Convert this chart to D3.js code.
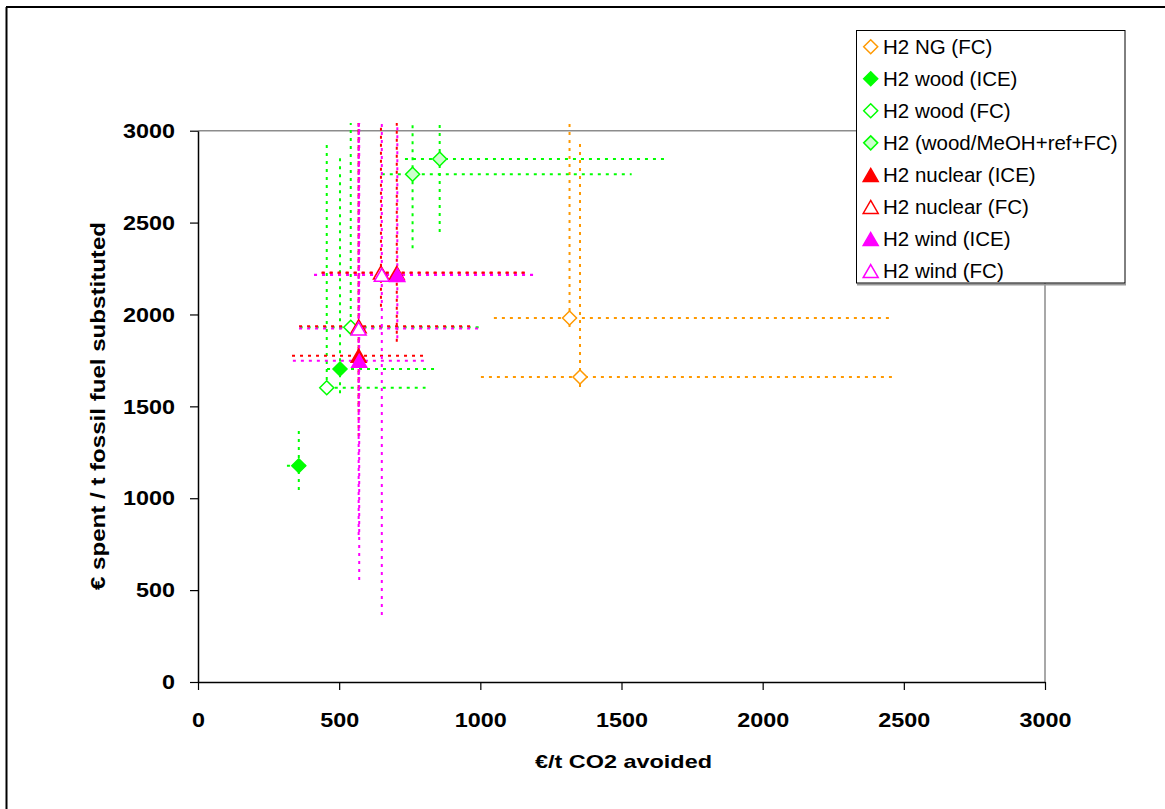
<!DOCTYPE html>
<html><head><meta charset="utf-8">
<script src="https://cdn.jsdelivr.net/npm/d3@7"></script>
<style>body{margin:0;background:#fff}</style></head>
<body>
<svg id="c" width="1165" height="809"></svg>
<script>
// ---------- data ----------
const xTicks = [0, 500, 1000, 1500, 2000, 2500, 3000];
const yTicks = [0, 500, 1000, 1500, 2000, 2500, 3000];
const seriesNames = ["H2 NG (FC)", "H2 wood (ICE)", "H2 wood (FC)", "H2 (wood/MeOH+ref+FC)",
  "H2 nuclear (ICE)", "H2 nuclear (FC)", "H2 wind (ICE)", "H2 wind (FC)"];
// each point: [x, y, xLow, xHigh, yLow, yHigh]
const ngFC       = [[1316, 1981, 1048, 2462, 1932, 3042], [1353, 1660, 1002, 2472, 1605, 2944]];
const woodICE    = [[357, 1177, 315, 390, 1045, 1366], [503, 1703, 457, 847, 1571, 2858]];
const woodFC     = [[456, 1601, 456, 806, 1600, 2928], [541, 1930, 360, 999, 1899, 3042]];
const woodMeOH   = [[760, 2763, 651, 1536, 2360, 3042], [856, 2846, 733, 1660, 2449, 3042]];
const nuclearICE = [[569, 1776, 333, 806, 1339, 3042], [704, 2226, 438, 1164, 1852, 3042]];
const nuclearFC  = [[569, 1936, 358, 974, 1500, 3042], [648, 2228, 438, 1164, 2042, 3042]];
const windICE    = [[571, 1748, 336, 811, 555, 3042], [706, 2215, 411, 1194, 1870, 3042]];
const windFC     = [[569, 1923, 358, 1005, 800, 3042], [651, 2216, 411, 1194, 365, 3042]];
const seriesData = [ngFC, woodICE, woodFC, woodMeOH, nuclearICE, nuclearFC, windICE, windFC];

// ---------- styles ----------
const seriesColor = ["#FF9900", "#00FF00", "#00FF00", "#00FF00", "#FF0000", "#FF0000", "#FF00FF", "#FF00FF"];
const seriesFill  = ["#FFFFFF", "#00FF00", "#FFFFFF", "#CCFFCC", "#FF0000", "#FFFFFF", "#FF00FF", "#FFFFFF"];
const seriesShape = ["diamond", "diamond", "diamond", "diamond", "triangle", "triangle", "triangle", "triangle"];
const FONT = "'Liberation Sans', Arial, sans-serif";

const svg = d3.select("#c");
const x = d3.scaleLinear().domain([0, 3000]).range([198, 1045]);
const y = d3.scaleLinear().domain([0, 3000]).range([682, 130.7]);

// outer frame (top & left)
svg.append("line").attr("x1", 6).attr("y1", 7).attr("x2", 1165).attr("y2", 7).attr("stroke", "#000").attr("stroke-width", 2);
svg.append("line").attr("x1", 6.5).attr("y1", 7).attr("x2", 6.5).attr("y2", 809).attr("stroke", "#000").attr("stroke-width", 2);

// plot area border (gray top/right)
svg.append("path")
  .attr("d", `M${x(0)},${y(3000)} H${x(3000)} V${y(0)}`)
  .attr("fill", "none").attr("stroke", "#8c8c8c").attr("stroke-width", 1.5);

// axes
const fmt = d3.format("d");
const xAxis = svg.append("g").attr("transform", `translate(0,${y(0)})`)
  .call(d3.axisBottom(x).tickValues(xTicks).tickFormat(fmt).tickSizeInner(8).tickSizeOuter(0).tickPadding(22));
const yAxis = svg.append("g").attr("transform", `translate(${x(0)},0)`)
  .call(d3.axisLeft(y).tickValues(yTicks).tickFormat(fmt).tickSizeInner(8).tickSizeOuter(0).tickPadding(15));
[xAxis, yAxis].forEach(g => {
  g.select(".domain").attr("stroke", "#000").attr("stroke-width", 1.5);
  g.selectAll(".tick line").attr("stroke", "#000").attr("stroke-width", 1.2);
  g.selectAll(".tick text").attr("fill", "#000")
    .style("font-family", FONT).style("font-weight", "bold").style("font-size", "21px")
    .attr("textLength", d => 13 * fmt(d).length).attr("lengthAdjust", "spacingAndGlyphs");
});

// axis titles
svg.append("text").attr("x", 535).attr("y", 768)
  .attr("textLength", 177).attr("lengthAdjust", "spacingAndGlyphs")
  .style("font-family", FONT).style("font-weight", "bold").style("font-size", "18.6px")
  .text("€/t CO2 avoided");
svg.append("text").attr("transform", "translate(105,590) rotate(-90)")
  .attr("x", 0).attr("y", 0)
  .attr("textLength", 368).attr("lengthAdjust", "spacingAndGlyphs")
  .style("font-family", FONT).style("font-weight", "bold").style("font-size", "20.5px")
  .text("€ spent / t fossil fuel substituted");

// error bars
const eb = svg.append("g");
seriesData.forEach((pts, i) => {
  pts.forEach(p => {
    eb.append("line").attr("x1", x(p[2])).attr("x2", x(p[3])).attr("y1", y(p[1])).attr("y2", y(p[1]))
      .attr("stroke", seriesColor[i]).attr("stroke-width", 2).attr("stroke-dasharray", "3,5");
    eb.append("line").attr("x1", x(p[0])).attr("x2", x(p[0])).attr("y1", y(p[4])).attr("y2", y(p[5]))
      .attr("stroke", seriesColor[i]).attr("stroke-width", 2).attr("stroke-dasharray", "3,5");
  });
});

function markerPath(shape) {
  return shape === "diamond" ? "M0,-7L7,0L0,7L-7,0Z" : "M0,-6.5L7.5,6.5L-7.5,6.5Z";
}

// markers
const mk = svg.append("g");
seriesData.forEach((pts, i) => {
  mk.selectAll(null).data(pts).enter().append("path")
    .attr("d", markerPath(seriesShape[i]))
    .attr("transform", p => `translate(${x(p[0])},${y(p[1])})`)
    .attr("fill", seriesFill[i]).attr("stroke", seriesColor[i]).attr("stroke-width", 1.5);
});

// legend
const lg = svg.append("g");
lg.append("line").attr("x1", 857).attr("x2", 1126).attr("y1", 284.5).attr("y2", 284.5).attr("stroke", "#999").attr("stroke-width", 2);
lg.append("rect").attr("x", 856.5).attr("y", 30.5).attr("width", 268.5).attr("height", 252.5)
  .attr("fill", "#fff").attr("stroke", "#000").attr("stroke-width", 1);
seriesNames.forEach((name, i) => {
  const cy = 46.7 + i * 32.05;
  lg.append("path").attr("d", markerPath(seriesShape[i]))
    .attr("transform", `translate(870.7,${cy})`)
    .attr("fill", seriesFill[i]).attr("stroke", seriesColor[i]).attr("stroke-width", 1.5);
  lg.append("text").attr("x", 883).attr("y", cy + 7)
    .style("font-family", FONT).style("font-size", "20.5px")
    .attr("fill", "#000").text(name);
});
</script>
</body></html>
